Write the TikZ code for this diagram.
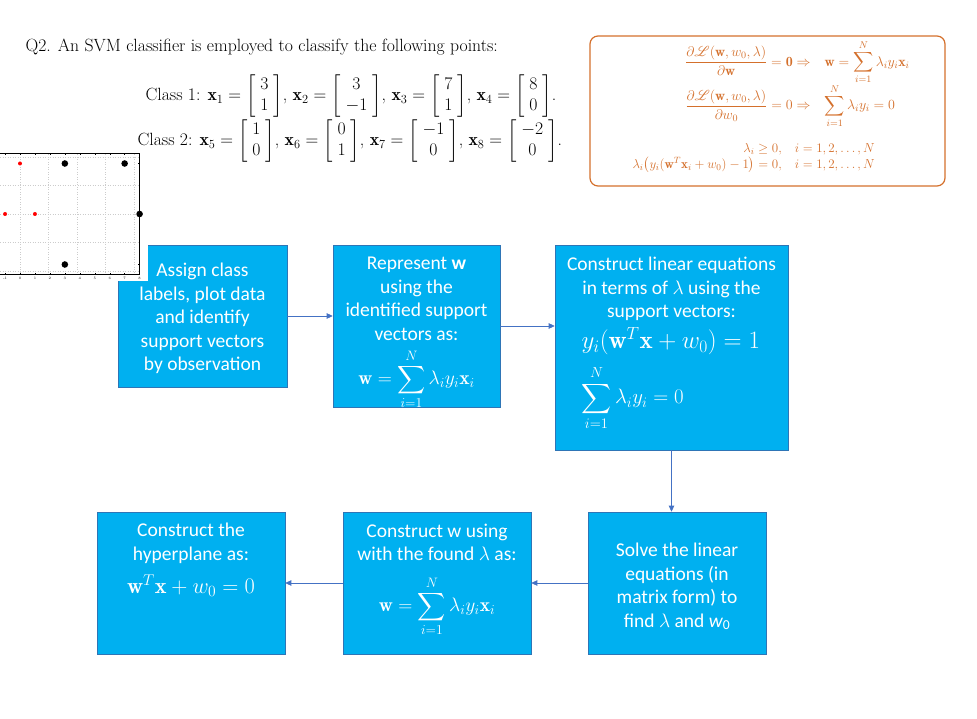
\RequirePackage{fix-cm}
\documentclass[tikz,border=0pt]{standalone}
\usepackage{amsmath,amssymb,mathrsfs}
\usepackage{fontspec}
\newfontfamily\boxfont{Carlito}
\usetikzlibrary{arrows.meta,positioning,calc}

\definecolor{boxfill}{RGB}{0,176,240}
\definecolor{boxedge}{RGB}{46,117,182}
\definecolor{flowline}{RGB}{68,114,196}
\definecolor{kktorange}{RGB}{212,112,44}

% fixed size text panel inside a flow box, #3 = space above the first line
\newcommand{\panel}[4]{\parbox[c][#2][t]{#1}{\centering\vspace*{#3}\boxfont\fontsize{19.5}{23.5}\selectfont #4}}
\newcommand{\wsum}{{\fontsize{19.5}{22}\selectfont$\displaystyle\mathbf{w}=\sum_{i=1}^{N}\lambda_i y_i\mathbf{x}_i$}}
\newcommand{\cvec}[2]{\left[\begin{array}{@{\hspace{5pt}}c@{\hspace{5pt}}}#1\\#2\end{array}\right]}

\begin{document}
\begin{tikzpicture}[x=1pt,y=-1pt,
    stepbox/.style={draw=boxedge, line width=0.6pt, fill=boxfill, text=white, inner sep=0pt},
    flow/.style={draw=flowline, line width=0.7pt, -{Triangle[length=6pt,width=5.5pt]}},
    kkttext/.style={text=kktorange, inner sep=0pt, font=\fontsize{13}{15.5}\selectfont}]
    \useasboundingbox (0,0) rectangle (977,719);

    % question
    \node[anchor=west, font=\fontsize{17.7}{21}\selectfont] (title) at (22,47) {Q2. An SVM classifier is employed to classify the following points:};
    \node[anchor=west, font=\fontsize{17.7}{21}\selectfont] (class1) at (142,96) {Class 1: $\mathbf{x}_1=\cvec{3}{1}$, $\mathbf{x}_2=\cvec{3}{-1}$, $\mathbf{x}_3=\cvec{7}{1}$, $\mathbf{x}_4=\cvec{8}{0}$.};
    \node[anchor=west, font=\fontsize{17.7}{21}\selectfont] (class2) at (134,141) {Class 2: $\mathbf{x}_5=\cvec{1}{0}$, $\mathbf{x}_6=\cvec{0}{1}$, $\mathbf{x}_7=\cvec{-1}{0}$, $\mathbf{x}_8=\cvec{-2}{0}$.};

    % KKT conditions
    \node[draw=kktorange, line width=1.2pt, rounded corners=8pt, minimum width=355pt, minimum height=150pt] (kkt) at (767.5,111) {};
    \node[kkttext, anchor=west, font=\fontsize{14}{16.5}\selectfont] (kktgrad) at (680,84) {$\begin{array}{r@{\hspace{14pt}}l}
        \dfrac{\partial\mathscr{L}(\mathbf{w},w_0,\lambda)}{\partial\mathbf{w}}=\mathbf{0}\Rightarrow & \mathbf{w}=\displaystyle\sum_{i=1}^{N}\lambda_i y_i\mathbf{x}_i\\[0pt]
        \dfrac{\partial\mathscr{L}(\mathbf{w},w_0,\lambda)}{\partial w_0}=0\Rightarrow & \displaystyle\sum_{i=1}^{N}\lambda_i y_i=0
      \end{array}$};
    \node[kkttext, anchor=east] (kktcond) at (880,157.5) {$\begin{array}{r@{\quad}l}
        \lambda_i\geq 0, & i=1,2,\dots,N\\
        \lambda_i\bigl(y_i(\mathbf{w}^T\mathbf{x}_i+w_0)-1\bigr)=0, & i=1,2,\dots,N
      \end{array}$};

    % flow boxes
    \node[stepbox] (assign) at (202.5,316) {\panel{169pt}{142pt}{18pt}{Assign class\\labels, plot data\\and identify\\support vectors\\by observation}};
    \node[stepbox] (represent) at (416.5,326) {\panel{167pt}{162pt}{12pt}{Represent \textbf{w}\\using the\\identified support\\vectors as:\\[8pt]\wsum}};
    \node[stepbox] (linear) at (671.5,347.5) {\panel{233pt}{205pt}{12pt}{Construct linear equations\\in terms of $\lambda$ using the\\support vectors:\\[6pt]
      \parbox{180pt}{\raggedright{\fontsize{25}{28}\selectfont$y_i(\mathbf{w}^T\mathbf{x}+w_0)=1$}\\[10pt]
      {\fontsize{20.8}{24}\selectfont$\displaystyle\sum_{i=1}^{N}\lambda_i y_i=0$}}}};
    \node[stepbox] (solve) at (677,583) {\panel{178pt}{142pt}{31pt}{Solve the linear\\equations (in\\matrix form) to\\find $\lambda$ and {\itshape w}\textsubscript{0}}};
    \node[stepbox] (buildw) at (437,583) {\panel{188pt}{142pt}{12pt}{Construct w using\\with the found $\lambda$ as:\\[14pt]\wsum}};
    \node[stepbox] (hyper) at (191,583) {\panel{188pt}{142pt}{11pt}{Construct the\\hyperplane as:\\[10pt]{\fontsize{22.3}{26}\selectfont$\mathbf{w}^T\mathbf{x}+w_0=0$}}};

    \draw[flow] (assign.east) -- (assign.east -| represent.west);
    \draw[flow] (represent.east) -- (represent.east -| linear.west);
    \draw[flow] (linear.south) -- (linear.south |- solve.north);
    \draw[flow] (solve.west) -- (buildw.east);
    \draw[flow] (buildw.west) -- (hyper.east);

    % data plot (cut by the page edge)
    \fill[white] (0,148) rectangle (148,281);
    \begin{scope}
      \clip (0,140) rectangle (160,290);
      \begin{scope}[shift={(20,214)}, x=14.95pt, y=50.5pt]
        \draw[gray!40, dotted, line width=0.5pt] (-2,-1.2) grid (8,1.2);
        \foreach \t in {-2,...,8}
          \draw[line width=0.4pt] (\t,1.2) -- ++(0,-2pt) (\t,-1.2) -- ++(0,2pt);
        \foreach \t in {-1,...,8}
          \node[font=\fontsize{3.5}{4}\selectfont, inner sep=0pt, below=2pt] (xt\t) at (\t,-1.2) {\t};
        \foreach \t in {-1,0,1}
          \draw[line width=0.4pt] (8,\t) -- ++(-2pt,0);
        \draw[line width=0.9pt] (-2,-1.2) rectangle (8,1.2);
        \foreach \px/\py in {0/1,-1/0,1/0}
          \fill[red] (\px,\py) circle[radius=2pt];
        \foreach \px/\py in {3/1,7/1,8/0,3/-1}
          \fill[black] (\px,\py) circle[radius=3.3pt];
      \end{scope}
    \end{scope}
\end{tikzpicture}
\end{document}
